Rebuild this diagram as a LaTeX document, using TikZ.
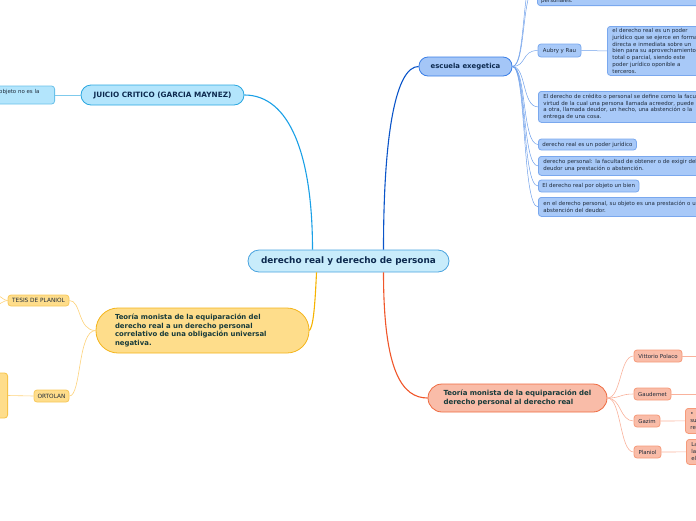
\documentclass[tikz,border=0pt]{standalone}
\usepackage{fontspec}
\setmainfont{DejaVu Sans}
\definecolor{cfill}{HTML}{C8ECFB}
\definecolor{cline}{HTML}{4AA3DF}
\definecolor{ctext}{HTML}{0D2A4F}
\definecolor{jfill}{HTML}{B3E5FC}
\definecolor{jline}{HTML}{2AA7E0}
\definecolor{jlink}{HTML}{1AA0E6}
\definecolor{efill}{HTML}{A4C6F7}
\definecolor{eline}{HTML}{3A7EE6}
\definecolor{elink}{HTML}{0B55C9}
\definecolor{ecfill}{HTML}{A8C9F8}
\definecolor{ecline}{HTML}{7AA8EE}
\definecolor{eclink}{HTML}{6E9FEA}
\definecolor{yfill}{HTML}{FEDD8B}
\definecolor{yline}{HTML}{F4B41A}
\definecolor{ylink}{HTML}{F6B300}
\definecolor{ycline}{HTML}{F8C95A}
\definecolor{yclink}{HTML}{FDD27A}
\definecolor{sfill}{HTML}{F9BCA8}
\definecolor{sline}{HTML}{EE6A40}
\definecolor{slink}{HTML}{F0562A}
\definecolor{scline}{HTML}{F69A7A}
\definecolor{sclink}{HTML}{F9B29C}
\definecolor{dtext}{HTML}{1E2A3A}
\definecolor{gtext}{HTML}{173A3A}
\tikzset{
  box/.style={rectangle, inner sep=0pt, line width=0.8pt},
  small/.style={font=\fontsize{5.45}{6.9}\selectfont, text=dtext},
  ebox/.style={box, small, rounded corners=3pt, fill=ecfill, draw=ecline, align=left, inner xsep=4pt},
  ybox/.style={box, small, rounded corners=3pt, fill=yfill, draw=ycline},
  sbox/.style={box, small, rounded corners=3pt, fill=sfill, draw=scline, align=left, inner xsep=4pt},
  elinkc/.style={draw=eclink, line width=0.5pt},
  ylinkc/.style={draw=yclink, line width=0.6pt},
  slinkc/.style={draw=sclink, line width=0.6pt},
}
\begin{document}
\begin{tikzpicture}[x=1pt,y=-1pt]
\useasboundingbox (0,0) rectangle (696,520);
\clip (0,0) rectangle (696,520);
% central
\node[box, rounded corners=11pt, fill=cfill, draw=cline, minimum width=201pt, minimum height=22pt,
  font=\bfseries\fontsize{8.9}{10}\selectfont, text=ctext] (c) at (348.5,261) {derecho real y derecho de persona};
% juicio
\node[box, rounded corners=10pt, fill=jfill, draw=jline, minimum width=163pt, minimum height=20pt,
  font=\bfseries\fontsize{7.3}{8}\selectfont, text=ctext] (jc) at (162.5,95) {JUICIO CRITICO (GARCIA MAYNEZ)};
\node[box, rounded corners=3pt, fill=jfill, draw=jline!70, minimum width=85pt, minimum height=18pt, anchor=east] (jc1) at (55,95) {};
\node[small, anchor=west, inner sep=0pt] (jc1t) at (-1,92) {objeto no es la};
% escuela
\node[box, rounded corners=9pt, fill=efill, draw=eline, minimum width=93pt, minimum height=19pt,
  font=\bfseries\fontsize{6.9}{8}\selectfont, text=ctext] (esc) at (465.5,66.5) {escuela exegetica};
\node[box, rounded corners=3pt, fill=ecfill, draw=ecline, anchor=south west, minimum width=200pt, minimum height=40pt] (e0) at (537,6) {};
\node[small, anchor=west, inner sep=0pt] (e0t) at (541,0.5) {personales.};
\coordinate (e00) at (537,-30);
\node[ebox, minimum width=43pt, minimum height=13pt, inner xsep=0pt] (e1) at (559.5,50.5) {Aubry y Rau};
\node[ebox, anchor=north west, minimum width=120pt, minimum height=49pt, text width=110pt] (e1a) at (607,26)
 {el derecho real es un poder\\jurídico que se ejerce en forma\\directa e inmediata sobre un\\bien para su aprovechamiento\\total o parcial, siendo este\\poder jurídico oponible a\\terceros.};
\node[ebox, anchor=north west, minimum width=200pt, minimum height=31pt, text width=190pt] (e2) at (538,91)
 {El derecho de crédito o personal se define como la facultad en\\virtud de la cual una persona llamada acreedor, puede exigir\\a otra, llamada deudor, un hecho, una abstención o la\\entrega de una cosa.};
\node[ebox, anchor=west, minimum height=11pt] (e3) at (538,144.5) {derecho real es un poder jurídico};
\node[ebox, anchor=north west, minimum width=200pt, minimum height=19pt, text width=190pt] (e4) at (538,156)
 {derecho personal: la facultad de obtener o de exigir del\\deudor una prestación o abstención.};
\node[ebox, anchor=west, minimum height=12pt] (e5) at (538,186) {El derecho real por objeto un bien};
\node[ebox, anchor=north west, minimum width=200pt, minimum height=19pt, text width=190pt] (e6) at (538,197)
 {en el derecho personal, su objeto es una prestación o una\\abstención del deudor.};
% yellow
\node[box, rounded corners=22pt, fill=yfill, draw=yline, minimum width=213pt, minimum height=45pt,
  font=\bfseries\fontsize{6.9}{8.4}\selectfont, text=gtext, align=left, text width=175pt] (ym) at (202.5,330.5)
 {Teoría monista de la equiparación del\\derecho real a un derecho personal\\correlativo de una obligación universal\\negativa.};
\node[ybox, minimum width=61pt, minimum height=11pt, font=\fontsize{5.8}{7}\selectfont] (y1) at (38.5,300.5) {TESIS DE PLANIOL};
\coordinate (y1a) at (-2,296);
\coordinate (y1b) at (-2,304);
\node[ybox, minimum width=35pt, minimum height=12pt, font=\fontsize{5.8}{7}\selectfont] (y2) at (51.5,396) {ORTOLAN};
\node[ybox, draw=yline!80, anchor=east, minimum width=40pt, minimum height=45pt] (y2a) at (8,395.5) {};
% salmon
\node[box, rounded corners=14pt, fill=sfill, draw=sline, minimum width=179pt, minimum height=28pt,
  font=\bfseries\fontsize{7}{8.6}\selectfont, text=gtext, align=left, text width=148pt] (sm) at (517.5,398)
 {Teoría monista de la equiparación del\\derecho personal al derecho real};
\node[sbox, minimum width=48pt, minimum height=12pt, inner xsep=0pt] (s1) at (658,356) {Vittorio Polaco};
\coordinate (s1a) at (700,356);
\node[sbox, minimum width=37pt, minimum height=12pt, inner xsep=0pt] (s2) at (652.5,394) {Gaudemet};
\coordinate (s2a) at (700,394);
\node[sbox, minimum width=26pt, minimum height=12pt, inner xsep=0pt] (s3) at (647,421) {Gazim};
\node[sbox, anchor=north west, minimum width=40pt, minimum height=25pt, text width=30pt] (s3a) at (685,408) {•\\su\\re};
\node[sbox, minimum width=27pt, minimum height=12pt, inner xsep=0pt] (s4) at (647.5,452) {Planiol};
\node[sbox, anchor=north west, minimum width=40pt, minimum height=25pt, text width=30pt] (s4a) at (686,439) {La\\la\\el};
% main connectors
\draw[jlink, line width=1.1pt] ([xshift=-36pt]c.north) .. controls +(0,-95) and +(45,0) .. (jc.east);
\draw[elink, line width=1.1pt] ([xshift=35pt]c.north) .. controls +(0,-120) and +(-22,0) .. (esc.west);
\draw[ylink, line width=1.1pt] ([xshift=-32pt]c.south) .. controls +(-2,45) and +(3,-4) .. (ym.east);
\draw[slink, line width=1.1pt] ([xshift=35pt]c.south) .. controls +(0,100) and +(-25,0) .. (sm.west);
\draw[jline!60, line width=0.6pt] (jc.west) -- (jc1.east);
% escuela children
\foreach \t in {e00,e0,e1,e2,e3,e4,e5,e6}
  \draw[elinkc] (esc.east) .. controls +(14,0) and +(-16,0) .. (\t.west);
\draw[elinkc] (e1.east) -- (e1a.west);
% yellow children
\draw[ylinkc] (ym.west) .. controls +(-18,0) and +(12,0) .. (y1.east);
\draw[ylinkc] (ym.west) .. controls +(-18,0) and +(12,0) .. (y2.east);
\draw[ylinkc] (y1.west) .. controls +(-4,0) and +(3,0) .. (y1a);
\draw[ylinkc] (y1.west) .. controls +(-4,0) and +(3,0) .. (y1b);
\draw[ylinkc] (y2.west) -- (y2a.east);
% salmon children
\foreach \t in {s1,s2,s3,s4}
  \draw[slinkc] (sm.east) .. controls +(14,0) and +(-14,0) .. (\t.west);
\draw[slinkc] (s1.east) -- (s1a);
\draw[slinkc] (s2.east) -- (s2a);
\draw[slinkc] (s3.east) -- (s3a.west);
\draw[slinkc] (s4.east) -- (s4a.west);
\end{tikzpicture}
\end{document}
